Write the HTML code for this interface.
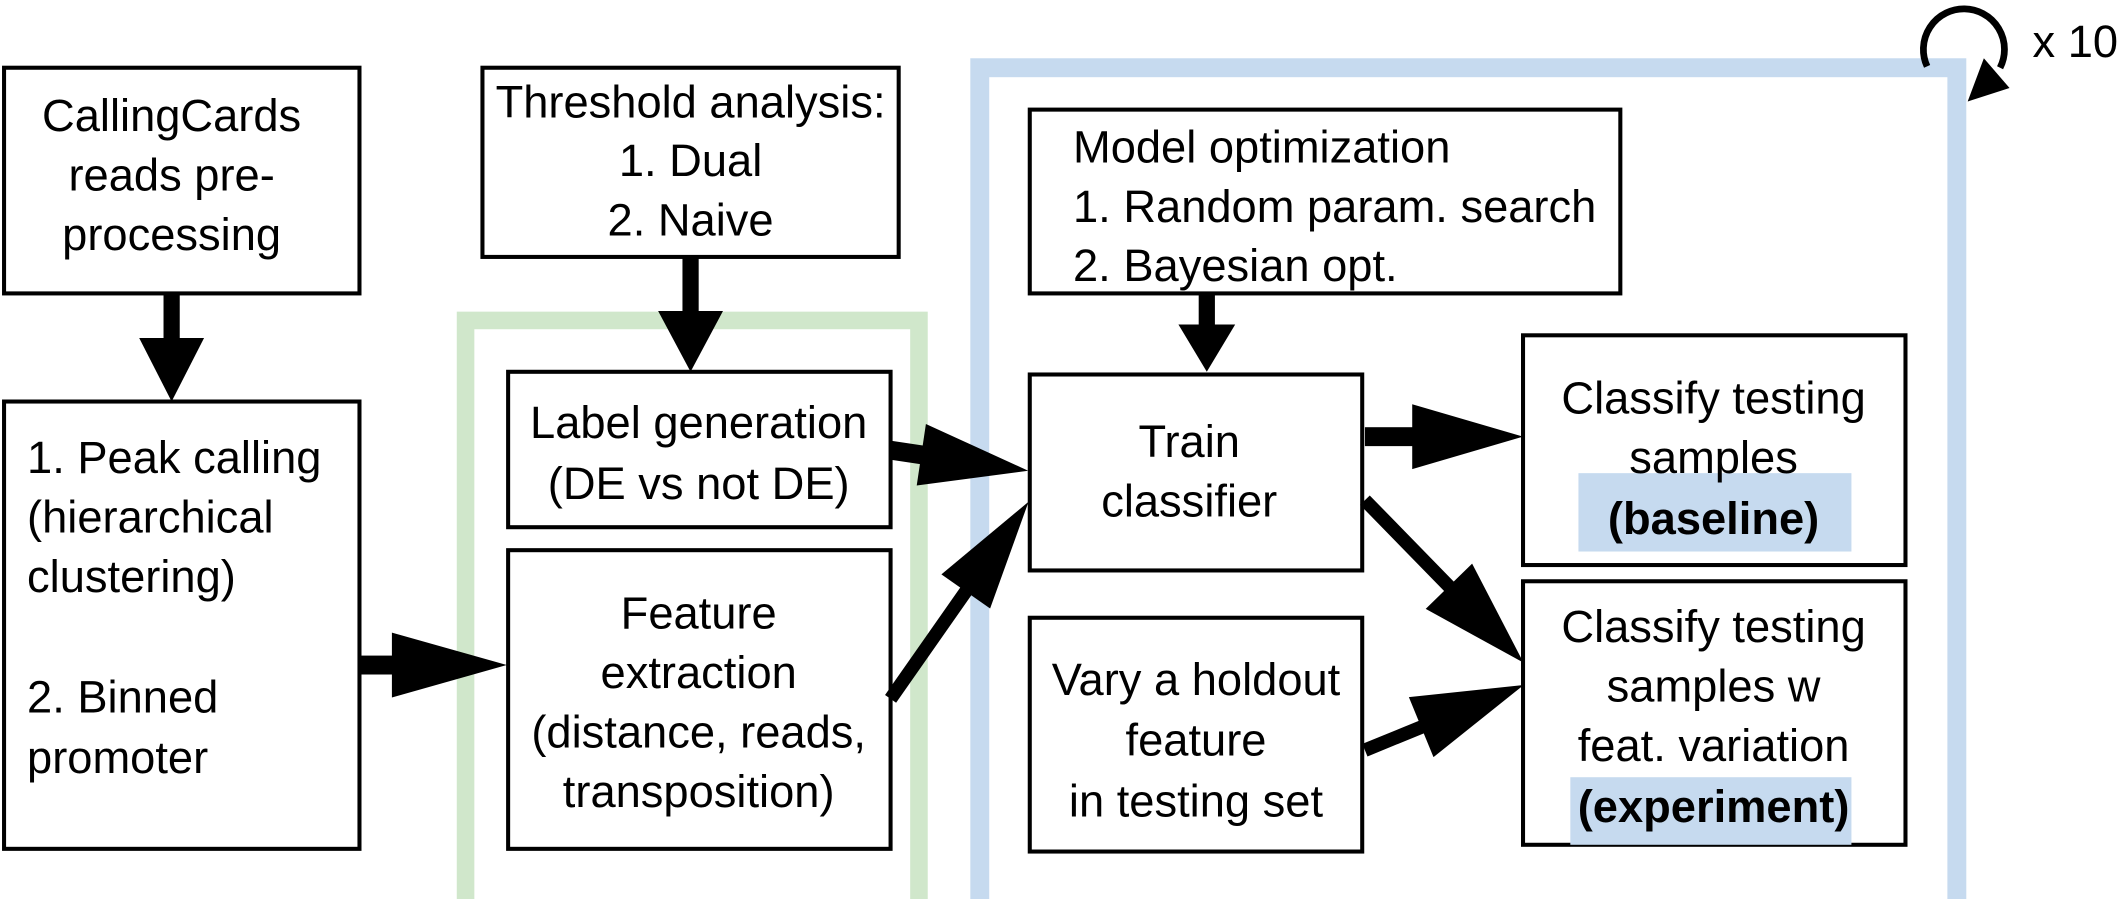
<!DOCTYPE html>
<html><head><meta charset="utf-8"><style>
html,body{margin:0;padding:0;background:#fff;}
svg{display:block;}
text{font-family:"Liberation Sans",sans-serif;font-size:33.5px;fill:#000;}
.c{text-anchor:middle;}
.b{fill:#fff;stroke:#000;stroke-width:3;}
</style></head><body>
<svg width="2119" height="899" viewBox="0 0 1568 665" xmlns="http://www.w3.org/2000/svg">
<rect width="1568" height="665" fill="#fff"/>
<rect x="344.5" y="237" width="335.5" height="440" fill="none" stroke="#d0e7cb" stroke-width="13"/>
<rect x="725" y="50" width="723" height="627" fill="none" stroke="#c6daef" stroke-width="14"/>

<rect class="b" x="3" y="50" width="263" height="167"/>
<text class="c" x="127" y="97">CallingCards</text>
<text class="c" x="127" y="141">reads pre-</text>
<text class="c" x="127" y="185">processing</text>

<rect class="b" x="3" y="297" width="263" height="331"/>
<text x="20" y="350">1. Peak calling</text>
<text x="20" y="394">(hierarchical</text>
<text x="20" y="438">clustering)</text>
<text x="20" y="527">2. Binned</text>
<text x="20" y="572">promoter</text>

<rect class="b" x="357" y="50" width="308" height="140"/>
<text class="c" x="511" y="87">Threshold analysis:</text>
<text class="c" x="511" y="130">1. Dual</text>
<text class="c" x="511" y="174">2. Naive</text>

<rect class="b" x="376" y="275" width="283" height="115"/>
<text class="c" x="517" y="324">Label generation</text>
<text class="c" x="517" y="369">(DE vs not DE)</text>

<rect class="b" x="376" y="407" width="283" height="221"/>
<text class="c" x="517" y="465">Feature</text>
<text class="c" x="517" y="509">extraction</text>
<text class="c" x="517" y="553">(distance, reads,</text>
<text class="c" x="517" y="597">transposition)</text>

<rect class="b" x="762" y="81" width="437" height="136"/>
<text x="794" y="120">Model optimization</text>
<text x="794" y="164">1. Random param. search</text>
<text x="794" y="208">2. Bayesian opt.</text>

<rect class="b" x="762" y="277" width="246" height="145"/>
<text class="c" x="880" y="338">Train</text>
<text class="c" x="880" y="382">classifier</text>

<rect class="b" x="762" y="457" width="246" height="173"/>
<text class="c" x="885" y="514">Vary a holdout</text>
<text class="c" x="885" y="559">feature</text>
<text class="c" x="885" y="604">in testing set</text>

<rect class="b" x="1127" y="248" width="283" height="170"/>
<rect x="1168" y="350" width="202" height="58" fill="#c6daef"/>
<text class="c" x="1268" y="306">Classify testing</text>
<text class="c" x="1268" y="350">samples</text>
<text class="c" x="1268" y="395" font-weight="bold">(baseline)</text>

<rect class="b" x="1127" y="430" width="283" height="195"/>
<rect x="1162" y="575" width="208" height="50" fill="#c6daef"/>
<text class="c" x="1268" y="475">Classify testing</text>
<text class="c" x="1268" y="519">samples w</text>
<text class="c" x="1268" y="563">feat. variation</text>
<text class="c" x="1268" y="608" font-weight="bold">(experiment)</text>

<g transform="translate(127,217) rotate(90)"><rect x="0" y="-6" width="35" height="12"/><polygon points="33,-24 80,0 33,24"/></g>
<g transform="translate(511,190) rotate(90)"><rect x="0" y="-6" width="42" height="12"/><polygon points="40,-24 85,0 40,24"/></g>
<g transform="translate(893,217) rotate(90)"><rect x="0" y="-6" width="25" height="12"/><polygon points="23,-21 58,0 23,21"/></g>
<g transform="translate(266,492)"><rect x="0" y="-7" width="26" height="14"/><polygon points="24,-24 109,0 24,24"/></g>
<g transform="translate(659,333) rotate(8.5)"><rect x="0" y="-7" width="25" height="14"/><polygon points="23,-23 103,0 23,23"/></g>
<g transform="translate(659,517) rotate(-55)"><rect x="0" y="-5" width="100" height="10"/><polygon points="97,-22 178,0 97,22"/></g>
<g transform="translate(1010,323)"><rect x="0" y="-7" width="37" height="14"/><polygon points="35,-24 117,0 35,24"/></g>
<g transform="translate(1010,370) rotate(45.7)"><rect x="0" y="-5" width="92" height="10"/><polygon points="89,-24 168,0 89,24"/></g>
<g transform="translate(1010,555) rotate(-22.3)"><rect x="0" y="-5" width="48" height="10"/><polygon points="45,-24 127,0 45,24"/></g>

<path d="M1426,49 A30,30 0 1 1 1480,50" fill="none" stroke="#000" stroke-width="5"/>
<polygon points="1468,43 1487,65 1456,75"/>
<text x="1504" y="42" font-size="31">x 10</text>
</svg>
</body></html>
